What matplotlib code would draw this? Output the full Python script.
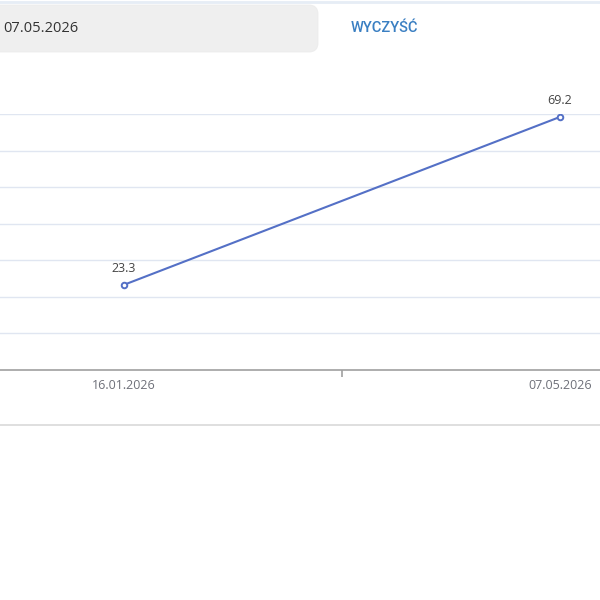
import matplotlib.pyplot as plt
from matplotlib.patches import FancyBboxPatch
from matplotlib.lines import Line2D

# dane
daty = ["16.01.2026", "07.05.2026"]
wartosci = [23.3, 69.2]
y_ticks = [0, 10, 20, 30, 40, 50, 60, 70]

W, H = 600, 600
fig = plt.figure(figsize=(6, 6), dpi=100)
fig.patch.set_facecolor("white")

# pasek z data i przyciskiem (w pikselach -> ulamki figury)
def fx(px):
    return px / W

def fy(py):
    return 1 - py / H

fig.add_artist(Line2D([0, 1], [fy(1.5), fy(1.5)], color="#e6edf5", lw=2))
box = FancyBboxPatch((fx(-20), fy(52)), fx(338), 47 / H,
                     boxstyle="round,pad=0,rounding_size=0.015",
                     transform=fig.transFigure, facecolor="#efefef",
                     edgecolor="#ececec", lw=0.6)
fig.add_artist(box)
fig.text(fx(3), fy(28), "07.05.2026", fontsize=10.5, color="#333333",
         va="center", ha="left", family="Open Sans")
fig.text(fx(351), fy(28), "WYCZYŚĆ", fontsize=10.5, color="#3a7fc2",
         va="center", ha="left", family="Roboto", weight="medium")

# wykres - os wychodzi poza obrazek z obu stron
x_left, x_right = -94, 778
y_top, y_bottom = 114, 370
ax = fig.add_axes([fx(x_left), fy(y_bottom), (x_right - x_left) / W,
                   (y_bottom - y_top) / H])
ax.set_facecolor("none")
ax.set_xlim(-0.5, len(daty) - 0.5)
ax.set_ylim(0, 70)

for v in y_ticks[1:]:
    ax.axhline(v, color="#e0e6f1", lw=1, zorder=0)

x = list(range(len(daty)))
ax.plot(x, wartosci, color="#5470c6", lw=1.5, marker="o", markersize=4,
        markerfacecolor="white", markeredgecolor="#5470c6",
        markeredgewidth=1.4, zorder=3)
for xi, v in zip(x, wartosci):
    ax.annotate(f"{v}", (xi, v), xytext=(0, 7), textcoords="offset points",
                ha="center", va="bottom", fontsize=9, color="#444444",
                family="Open Sans")

for s in ["top", "right", "left"]:
    ax.spines[s].set_visible(False)
ax.spines["bottom"].set_color("#a0a0a0")
ax.spines["bottom"].set_linewidth(1.2)
ax.set_yticks([])
ax.set_xticks([0.5], minor=False)
ax.set_xticklabels([""])
ax.tick_params(axis="x", length=5, color="#a0a0a0", width=1.2)
for xi, d in zip(x, daty):
    ax.text(xi, -0.035, d, transform=ax.get_xaxis_transform(), ha="center",
            va="top", fontsize=9, color="#6e7079", family="Open Sans")

# linia oddzielajaca pod wykresem
fig.add_artist(Line2D([0, 1], [fy(425), fy(425)], color="#d9d9d9", lw=1.2))

fig.savefig("out.png", dpi=100)
